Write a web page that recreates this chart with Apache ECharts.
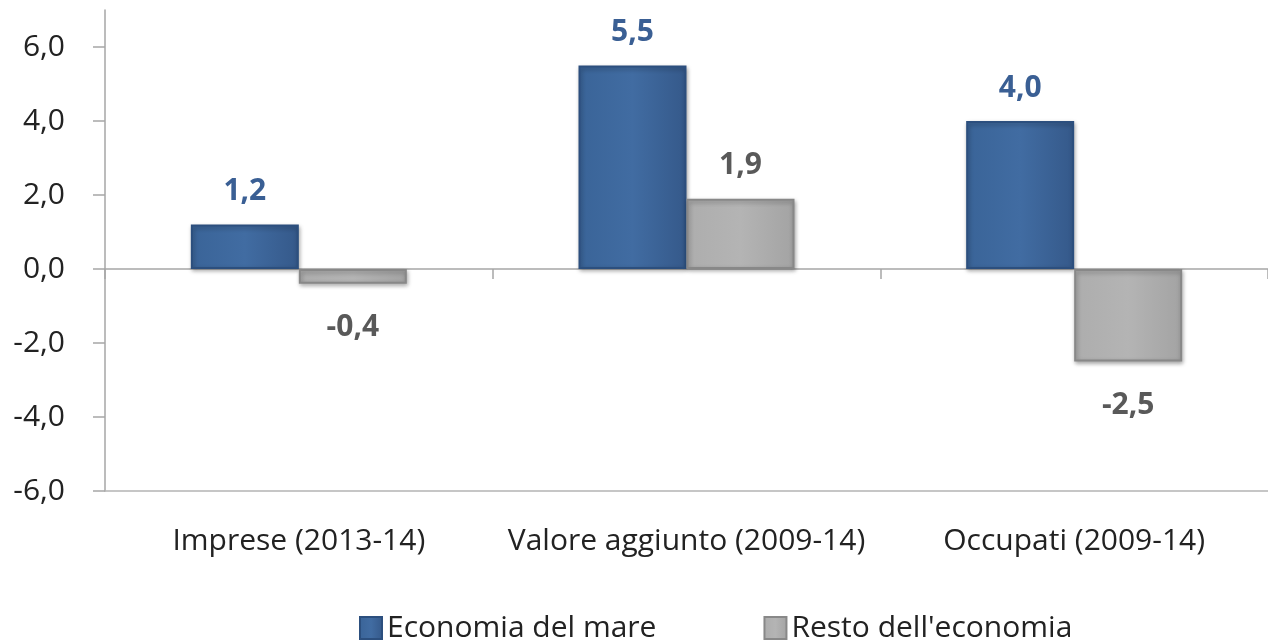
<!DOCTYPE html>
<html>
<head>
<meta charset="utf-8">
<script src="https://cdn.jsdelivr.net/npm/echarts@6/dist/echarts.min.js"></script>
<style>
    html, body { margin: 0; padding: 0; background: #fff; }
    #chart { width: 1268px; height: 640px; }
</style>
</head>
<body>
<div id="chart"></div>
<script>
// dati
var categorie = ['Imprese (2013-14)', 'Valore aggiunto (2009-14)', 'Occupati (2009-14)'];
var economiaMare = [1.2, 5.5, 4.0];
var restoEconomia = [-0.4, 1.9, -2.5];
var tickValori = [-6, -4, -2, 0, 2, 4, 6];

var fmt = function (v) { return v.toFixed(1).replace('.', ','); };
var font = '"Open Sans", "Noto Sans", sans-serif';

// etichette sopra/sotto in base al segno
function conEtichette(valori) {
    return valori.map(function (v) {
        return { value: v, label: { position: v < 0 ? 'bottom' : 'top', distance: v < 0 ? 29 : 18 } };
    });
}

var myChart = echarts.init(document.getElementById('chart'));
myChart.setOption({
    animation: false,
    grid: { left: 105, top: 10, width: 1170, bottom: 149, containLabel: false },
    legend: {
        top: 608,
        left: 354,
        icon: 'rect',
        itemWidth: 22,
        itemHeight: 22,
        itemGap: 107,
        textStyle: { fontFamily: font, fontSize: 30, color: '#222' },
        data: ['Economia del mare', 'Resto dell\'economia']
    },
    xAxis: [
        {
            type: 'category',
            data: categorie,
            position: 'bottom',
            axisLine: { onZero: false, lineStyle: { color: '#b4b4b4', width: 1.5 } },
            axisTick: { show: false },
            axisLabel: { interval: 0, margin: 35, fontFamily: font, fontSize: 30, color: '#222' }
        },
        {
            type: 'category',
            data: categorie,
            position: 'bottom',
            axisLine: { onZero: true, lineStyle: { color: '#a6a6a6', width: 1.5 } },
            axisTick: { show: true, length: 10, lineStyle: { color: '#a6a6a6', width: 1.5 } },
            axisLabel: { show: false }
        }
    ],
    yAxis: {
        type: 'value',
        min: -6,
        max: 7,
        interval: 2,
        splitLine: { show: false },
        axisLine: { show: true, lineStyle: { color: '#a6a6a6', width: 1.5 } },
        axisTick: { show: true, length: 12, inside: false, customValues: tickValori, lineStyle: { color: '#a6a6a6', width: 1.5 } },
        axisLabel: {
            margin: 40,
            customValues: tickValori,
            fontFamily: font, fontSize: 30, color: '#222',
            formatter: function (v) { return fmt(v); }
        }
    },
    series: [
        {
            name: 'Economia del mare',
            type: 'bar',
            xAxisIndex: 0,
            barWidth: 108,
            barGap: '0%',
            data: conEtichette(economiaMare),
            itemStyle: {
                color: new echarts.graphic.LinearGradient(0, 0, 1, 0, [
                    { offset: 0, color: '#3a6498' },
                    { offset: 0.5, color: '#416ca2' },
                    { offset: 1, color: '#35598a' }
                ]),
                borderColor: '#2c4f7e',
                borderWidth: 2,
                shadowColor: 'rgba(0,0,0,0.3)',
                shadowBlur: 4,
                shadowOffsetX: 1,
                shadowOffsetY: 2
            },
            label: {
                show: true,
                fontFamily: font, fontSize: 30, fontWeight: 'bold', color: '#3a5f94',
                formatter: function (p) { return fmt(p.value); }
            }
        },
        {
            name: 'Resto dell\'economia',
            type: 'bar',
            xAxisIndex: 0,
            barWidth: 108,
            barGap: '0%',
            data: conEtichette(restoEconomia),
            itemStyle: {
                color: new echarts.graphic.LinearGradient(0, 0, 1, 0, [
                    { offset: 0, color: '#adadad' },
                    { offset: 0.5, color: '#b4b4b4' },
                    { offset: 1, color: '#a3a3a3' }
                ]),
                borderColor: '#888',
                borderWidth: 2,
                shadowColor: 'rgba(0,0,0,0.3)',
                shadowBlur: 4,
                shadowOffsetX: 1,
                shadowOffsetY: 2
            },
            label: {
                show: true,
                fontFamily: font, fontSize: 30, fontWeight: 'bold', color: '#595959',
                formatter: function (p) { return fmt(p.value); }
            }
        }
    ]
});
</script>
</body>
</html>
